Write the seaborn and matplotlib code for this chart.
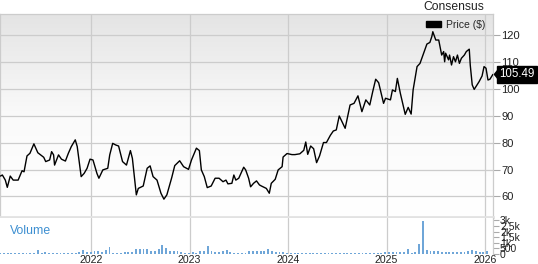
import numpy as np
import pandas as pd
import matplotlib
matplotlib.use("Agg")
import matplotlib.pyplot as plt
import matplotlib.transforms as mtransforms
from matplotlib.colors import LinearSegmentedColormap
from matplotlib.patches import Patch, Polygon
import seaborn as sns

# ---------------- data ----------------
price_t = [2021.08, 2021.10, 2021.13, 2021.15, 2021.18, 2021.21, 2021.26, 2021.30, 2021.32, 2021.35,
           2021.38, 2021.42, 2021.46, 2021.52, 2021.54, 2021.58, 2021.60, 2021.62, 2021.63, 2021.67,
           2021.70, 2021.74, 2021.77, 2021.80, 2021.84, 2021.86, 2021.90, 2021.93, 2021.96, 2021.99,
           2022.02, 2022.06, 2022.08, 2022.12, 2022.17, 2022.19, 2022.22, 2022.25, 2022.28, 2022.32,
           2022.36, 2022.40, 2022.42, 2022.46, 2022.48, 2022.53, 2022.57, 2022.60, 2022.63, 2022.67,
           2022.71, 2022.74, 2022.77, 2022.82, 2022.85, 2022.90, 2022.94, 2022.99, 2023.02, 2023.07,
           2023.10, 2023.12, 2023.15, 2023.18, 2023.22, 2023.26, 2023.30, 2023.34, 2023.37, 2023.39,
           2023.43, 2023.45, 2023.47, 2023.50, 2023.55, 2023.57, 2023.60, 2023.62, 2023.65, 2023.68,
           2023.71, 2023.73, 2023.78, 2023.81, 2023.83, 2023.87, 2023.90, 2023.94, 2023.95, 2023.99,
           2024.04, 2024.07, 2024.12, 2024.16, 2024.18, 2024.20, 2024.23, 2024.26, 2024.29, 2024.32,
           2024.36, 2024.39, 2024.43, 2024.46, 2024.49, 2024.52, 2024.54, 2024.58, 2024.63, 2024.67,
           2024.71, 2024.75, 2024.79, 2024.83, 2024.86, 2024.89, 2024.92, 2024.97, 2024.99, 2025.04,
           2025.06, 2025.09, 2025.11, 2025.14, 2025.19, 2025.22, 2025.25, 2025.27, 2025.31, 2025.34,
           2025.37, 2025.41, 2025.44, 2025.46, 2025.47, 2025.50, 2025.53, 2025.54, 2025.56, 2025.58,
           2025.59, 2025.60, 2025.63, 2025.64, 2025.66, 2025.68, 2025.70, 2025.72, 2025.74, 2025.76,
           2025.79, 2025.81, 2025.84, 2025.85, 2025.87, 2025.89, 2025.92, 2025.94, 2025.97, 2025.99,
           2026.01, 2026.03, 2026.05, 2026.07, 2026.08]
price = [67.6, 68.0, 66.1, 63.4, 67.6, 66.1, 66.1, 69.6, 69.2, 75.1,
         76.1, 79.6, 76.3, 74.6, 73.0, 73.6, 76.7, 75.5, 71.7, 75.5,
         73.9, 73.2, 76.1, 78.6, 81.1, 78.6, 67.4, 68.6, 70.5, 73.9,
         73.6, 68.6, 66.8, 69.9, 70.5, 75.5, 79.8, 79.2, 78.8, 73.0,
         71.7, 77.1, 74.2, 60.6, 63.0, 63.9, 70.5, 71.4, 67.4, 66.1,
         61.2, 59.0, 60.6, 67.1, 71.5, 73.3, 71.1, 70.1, 73.6, 78.0,
         77.1, 69.9, 67.4, 63.3, 63.9, 66.8, 66.8, 65.5, 66.1, 64.7,
         64.9, 68.0, 66.1, 66.8, 70.9, 69.9, 66.8, 63.6, 64.9, 65.8,
         64.3, 63.9, 63.0, 61.2, 64.9, 66.4, 69.9, 71.1, 74.7, 76.0,
         75.6, 75.6, 75.9, 77.2, 80.3, 75.7, 78.8, 77.8, 72.6, 75.1,
         80.1, 80.1, 82.8, 84.4, 84.8, 90.0, 88.5, 85.4, 94.1, 94.7,
         97.5, 91.6, 96.0, 94.1, 99.1, 103.7, 102.4, 94.7, 96.6, 96.0,
         99.7, 99.1, 104.0, 98.5, 90.6, 93.2, 90.7, 99.7, 108.4, 109.6,
         112.7, 116.8, 117.4, 119.6, 121.4, 118.3, 118.3, 116.5, 112.7, 114.0,
         110.2, 113.4, 110.9, 112.7, 109.0, 112.1, 110.2, 112.7, 109.6, 111.5,
         112.7, 114.0, 114.9, 109.0, 101.6, 99.9, 101.6, 102.8, 104.9, 108.4,
         107.8, 103.4, 103.7, 104.9, 105.49]

volume = [80, 90, 70, 100, 80, 90, 100, 80, 90, 100,
          330, 120, 210, 100, 90, 80, 100, 90, 110, 100,
          120, 150, 360, 180, 200, 300, 250, 200, 390, 600,
          120, 100, 130, 150, 180, 160, 450, 470, 430, 440,
          300, 250, 420, 780, 540, 300, 250, 280, 220, 130,
          100, 150, 120, 300, 250, 690, 250, 220, 200, 240,
          320, 150, 120, 100, 110, 130, 250, 230, 260, 240,
          250, 420, 300, 200, 150, 140, 80, 70, 90, 60,
          80, 70, 90, 80, 70, 60, 80, 90, 70, 80,
          90, 70, 80, 100, 80, 90, 80, 70, 90, 100,
          120, 130, 150, 140, 160, 180, 150, 200, 420, 120,
          150, 850, 2900, 400, 280, 250, 230, 180, 200, 160,
          190, 170, 200, 180, 250, 330, 300, 180, 150, 300]
vol_dates = pd.date_range("2021-01-29", periods=len(volume), freq="14D")

year_ticks = [2022, 2023, 2024, 2025, 2026]
year_labels = ["2022", "2023", "2024", "2025", "2026"]
price_ticks = [60, 70, 80, 90, 100, 110, 120]
vol_ticks = [0, 500, 1000, 1500, 2000, 2500, 3000]
vol_labels = ["0", "500", "1k", "1.5k", "2k", "2.5k", "3k"]

# ---------------- style ----------------
sns.set_style("white")
plt.rcParams["font.family"] = ["Liberation Sans", "DejaVu Sans"]

W, H = 538, 264
fig = plt.figure(figsize=(W / 100, H / 100), dpi=100)
ax = fig.add_axes([0, 1 - 217 / H, 493 / W, (217 - 14) / H])
axv = fig.add_axes([0, 1 - 254 / H, 493 / W, (254 - 218) / H])

x0, x1 = 2021.076, 2026.081
grid_c = "#cccccc"

# price panel
df = pd.DataFrame({"t": price_t, "price": price})
sns.lineplot(data=df, x="t", y="price", ax=ax, color="black", lw=1.0, zorder=3)
grad = np.linspace(0, 1, 256).reshape(-1, 1)
cmap = LinearSegmentedColormap.from_list("g", ["#ffffff", "#fafafa", "#e4e4e4"])
ax.imshow(grad, extent=[x0, x1, 52.35, 128.0], origin="lower", aspect="auto",
          cmap=cmap, zorder=0)
ax.set_xlim(x0, x1)
ax.set_ylim(52.35, 128.0)
ax.set_xlabel("")
ax.set_ylabel("")
ax.set_xticks(year_ticks)
ax.set_xticklabels([])
ax.tick_params(axis="x", length=0)
ax.yaxis.tick_right()
ax.set_yticks(price_ticks)
ax.set_yticklabels([str(v) for v in price_ticks])
ax.tick_params(axis="y", length=5, width=0.8, color="#aaaaaa", pad=1,
               labelsize=8, labelcolor="#222222")
ax.grid(True, color=grid_c, lw=0.9, zorder=1)
ax.set_axisbelow(True)
for s in ["top", "left", "right"]:
    ax.spines[s].set_color(grid_c)
    ax.spines[s].set_linewidth(0.9)
ax.spines["bottom"].set_color("#e2e2e2")
ax.spines["bottom"].set_linewidth(2.0)

# legend
ax.legend(handles=[Patch(facecolor="black", edgecolor="black", label="Price ($)")],
          loc="center right", bbox_to_anchor=(0.985, 0.946), frameon=False,
          fontsize=7.5, handlelength=1.4, handleheight=0.5, handletextpad=0.5,
          borderaxespad=0, borderpad=0)

# last price label: box + left-pointing tip
trans = mtransforms.blended_transform_factory(ax.transAxes, ax.transData)
ax.text(1.0125, price[-1], f"{price[-1]:.2f}", transform=trans, ha="left", va="center",
        color="white", fontsize=8.3, clip_on=False, zorder=5,
        bbox=dict(boxstyle="square,pad=0.22", fc="black", ec="black"))
px, py = trans.transform((1.0, price[-1]))
tip = Polygon([(px + 0.5, py), (px + 6.5, py + 7.5), (px + 6.5, py - 7.5)], closed=True,
              transform=mtransforms.IdentityTransform(), fc="black", ec="none",
              clip_on=False, zorder=5)
fig.patches.append(tip)

# volume panel
vol_t = [2021 + (d - pd.Timestamp("2021-01-01")).days / 365.25 for d in vol_dates]
vdf = pd.DataFrame({"t": vol_t, "volume": volume})
sns.barplot(data=vdf, x="t", y="volume", ax=axv, native_scale=True, width=0.5,
            color="#6fa6d8", saturation=1, edgecolor="none", zorder=2)
axv.set_xlim(x0, x1)
axv.set_ylim(0, 3200)
axv.set_xlabel("")
axv.set_ylabel("")
axv.set_xticks(year_ticks)
axv.set_xticklabels(year_labels)
axv.tick_params(axis="x", length=0, pad=0.5, labelsize=7.6, labelcolor="#222222")
axv.yaxis.tick_right()
axv.set_yticks(vol_ticks)
axv.set_yticklabels(vol_labels)
axv.tick_params(axis="y", length=4, width=0.8, color="#aaaaaa", pad=1,
                labelsize=7.5, labelcolor="#222222")
axv.grid(True, axis="x", color=grid_c, lw=0.9, zorder=0)
axv.set_axisbelow(True)
for s in ["top", "left", "bottom"]:
    axv.spines[s].set_visible(False)
axv.spines["right"].set_color(grid_c)
axv.spines["right"].set_linewidth(0.9)
axv.text(10 / 493, 0.65, "Volume", transform=axv.transAxes, ha="left", va="center",
         color="#3d8fd1", fontsize=8.8)

fig.text(454 / W, 1 - 7 / H, "Consensus", ha="center", va="center", fontsize=8.7,
         color="#222222")

fig.savefig("out.png", dpi=100)
